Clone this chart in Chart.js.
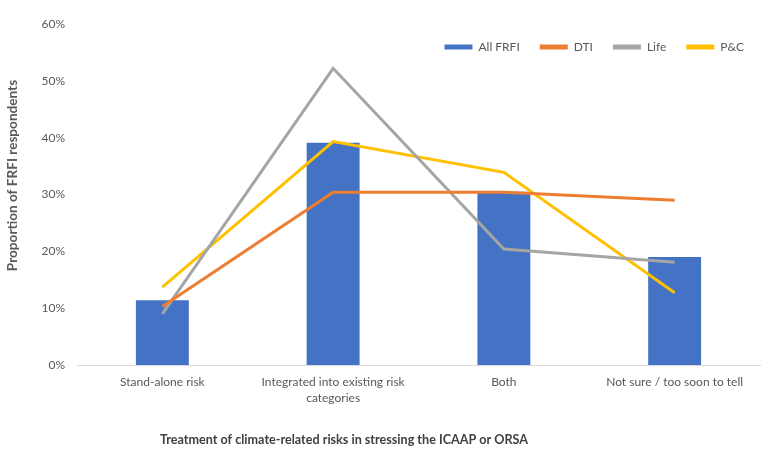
<!DOCTYPE html>
<html>
<head>
<meta charset="utf-8">
<script src="https://cdn.jsdelivr.net/npm/chart.js@4/dist/chart.umd.min.js"></script>
<style>
  html, body { margin: 0; padding: 0; background: #fff; }
  #wrap { width: 768px; height: 456px; }
</style>
</head>
<body>
<div id="wrap"><canvas id="c"></canvas></div>
<script>
const categories = [
    "Stand-alone risk",
    ["Integrated into existing risk", "categories"],
    "Both",
    "Not sure / too soon to tell",
]
const allFrfi = [11.4, 39.1, 30.5, 19.0]
const dti = [10.3, 30.4, 30.4, 29.0]
const life = [9.0, 52.2, 20.4, 18.1]
const pc = [13.7, 39.3, 33.9, 12.7]
const yTicks = [0, 10, 20, 30, 40, 50, 60]

const xTitle = "Treatment of climate-related risks in stressing the ICAAP or ORSA"
const yTitle = "Proportion of FRFI respondents"
const FONT = "Lato, 'Noto Sans', sans-serif"
const GREY = "#595959"

// both axis titles sit off-centre in the original, so draw them by hand
const axisTitles = {
    id: "axisTitles",
    afterDraw(chart) {
        const ctx = chart.ctx
        ctx.save()
        ctx.textAlign = "center"
        ctx.textBaseline = "middle"
        ctx.fillStyle = "#404040"
        ctx.font = "bold 12.6px " + FONT
        ctx.fillText(xTitle, 344, 440)
        ctx.fillStyle = GREY
        ctx.font = "bold 13.6px " + FONT
        ctx.translate(13, 175.5)
        ctx.rotate(-Math.PI / 2)
        ctx.fillText(yTitle, 0, 0)
        ctx.restore()
    }
}

// the legend overlaps the top of the plot in the original:
// give it almost no layout height, but let it draw a full row
const flatLegend = {
    id: "flatLegend",
    afterInit(chart) {
        const lg = chart.legend
        const fit = lg.fit
        const draw = lg.draw
        lg.fit = function () {
            fit.call(this)
            this.height = 3
        }
        lg.draw = function () {
            const bottom = this.bottom
            this.bottom = this.top + 50
            this.ctx.save()
            this.ctx.translate(4, 0)
            draw.call(this)
            this.ctx.restore()
            this.bottom = bottom
        }
    }
}

function lineSet(label, data, color) {
    return {
        type: "line",
        label: label,
        data: data,
        borderColor: color,
        backgroundColor: color,
        borderWidth: 3,
        pointRadius: 0,
        tension: 0,
        order: 0,
    }
}

new Chart(document.getElementById("c"), {
    type: "bar",
    data: {
        labels: categories,
        datasets: [
            {
                label: "All FRFI",
                data: allFrfi,
                backgroundColor: "#4472C4",
                categoryPercentage: 1,
                barPercentage: 0.31,
                order: 1,
            },
            lineSet("DTI", dti, "#ED7D31"),
            lineSet("Life", life, "#A5A5A5"),
            lineSet("P&C", pc, "#FFC000"),
        ],
    },
    plugins: [axisTitles, flatLegend],
    options: {
        responsive: true,
        maintainAspectRatio: false,
        animation: false,
        layout: { padding: { top: 21, right: 8, bottom: 0, left: 0 } },
        plugins: {
            tooltip: { enabled: false },
            legend: {
                position: "top",
                align: "end",
                labels: {
                    boxWidth: 28,
                    boxHeight: 5,
                    padding: 20,
                    color: GREY,
                    font: { family: FONT, size: 12 },
                    sort: (a, b) => a.datasetIndex - b.datasetIndex,
                    generateLabels(chart) {
                        return Chart.defaults.plugins.legend.labels.generateLabels(chart)
                            .map(item => Object.assign(item, { lineWidth: 0 }))
                    },
                },
            },
        },
        scales: {
            x: {
                grid: { display: false, drawTicks: false },
                border: { display: true, color: "#D9D9D9", width: 1 },
                ticks: {
                    color: GREY,
                    padding: 9,
                    maxRotation: 0,
                    autoSkip: false,
                    font: { family: FONT, size: 12, lineHeight: 1.35 },
                },
                afterFit(scale) { scale.height = 91 },
            },
            y: {
                min: 0,
                max: 60,
                afterBuildTicks(scale) { scale.ticks = yTicks.map(v => ({ value: v })) },
                grid: { display: false, drawTicks: false },
                border: { display: false },
                ticks: {
                    color: GREY,
                    padding: 12,
                    font: { family: FONT, size: 12 },
                    callback: v => v + "%",
                },
                afterFit(scale) { scale.width = 77 },
            },
        },
    },
})
</script>
</body>
</html>
